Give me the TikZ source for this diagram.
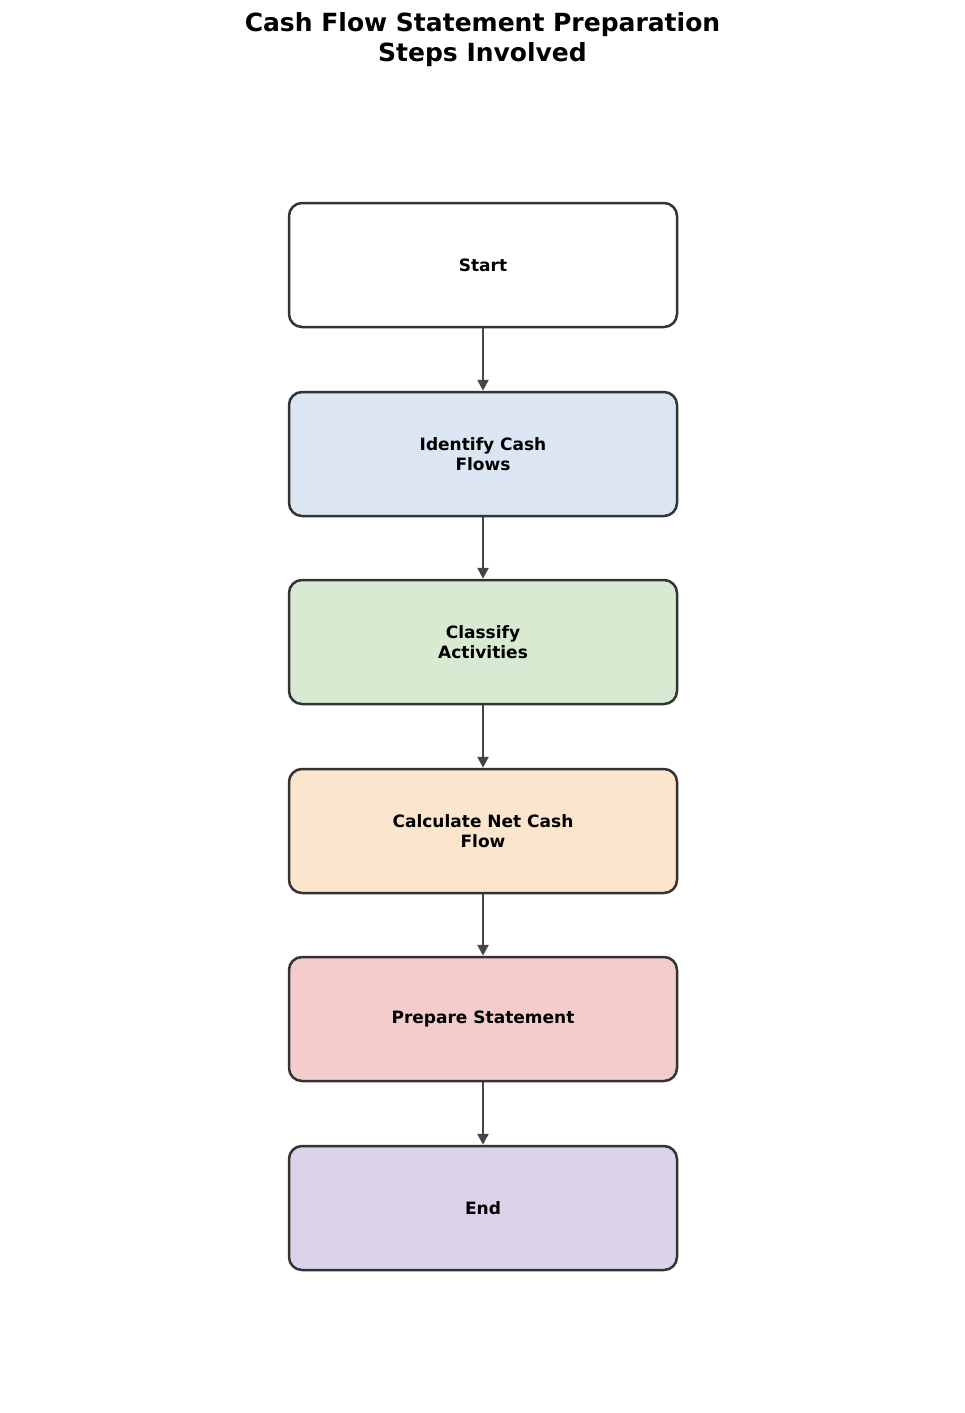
\documentclass[tikz,border=0pt]{standalone}
\usepackage{fontspec}
\setmainfont{DejaVu Sans}
\usetikzlibrary{arrows.meta}
\definecolor{cb}{HTML}{DCE6F2}
\definecolor{cg}{HTML}{D9EAD3}
\definecolor{co}{HTML}{FCE5CD}
\definecolor{cr}{HTML}{F4CCCC}
\definecolor{cp}{HTML}{D9D2E9}
\begin{document}
\begin{tikzpicture}[x=1pt,y=-1pt,
  box/.style={draw=black!80,line width=2.5pt,rounded corners=13pt,minimum width=388pt,minimum height=124pt,align=center,font=\fontsize{17}{20}\selectfont\bfseries},
  conn/.style={draw=black!73,line width=2.5pt,-{Triangle[length=11pt,width=11pt]}}]
\useasboundingbox (0,0) rectangle (965,1413);
\node[font=\fontsize{25}{30}\selectfont\bfseries,align=center] (t) at (482.5,40) {Cash Flow Statement Preparation\\Steps Involved};
\node[box,fill=white] (a) at (483,265) {Start};
\node[box,fill=cb] (b) at (483,454) {Identify Cash\\Flows};
\node[box,fill=cg] (c) at (483,642) {Classify\\Activities};
\node[box,fill=co] (d) at (483,831) {Calculate Net Cash\\Flow};
\node[box,fill=cr] (e) at (483,1019) {Prepare Statement};
\node[box,fill=cp] (f) at (483,1208) {End};
\draw[conn] (a) -- (b);
\draw[conn] (b) -- (c);
\draw[conn] (c) -- (d);
\draw[conn] (d) -- (e);
\draw[conn] (e) -- (f);
\end{tikzpicture}
\end{document}
